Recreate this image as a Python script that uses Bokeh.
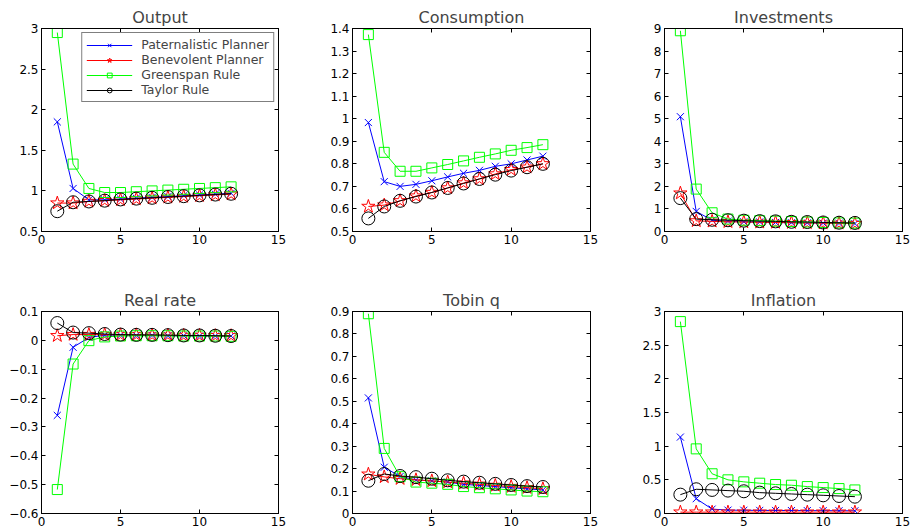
from bokeh.plotting import figure
from bokeh.layouts import row, column
from bokeh.models import FixedTicker, LinearAxis, Range1d, Legend, LegendItem
from bokeh.embed import file_html
from bokeh.resources import INLINE

periods = list(range(1, 13))
series_names = ["Paternalistic Planner", "Benevolent Planner", "Greenspan Rule", "Taylor Rule"]

# ---- data ----
output_pat = [1.85, 1.03, 0.89, 0.89, 0.90, 0.91, 0.92, 0.93, 0.94, 0.95, 0.96, 0.97]
output_ben = [0.85, 0.85, 0.87, 0.88, 0.89, 0.90, 0.91, 0.92, 0.93, 0.94, 0.95, 0.96]
output_gre = [2.95, 1.33, 1.03, 0.98, 0.98, 0.99, 1.00, 1.01, 1.02, 1.03, 1.04, 1.05]
output_tay = [0.75, 0.86, 0.87, 0.88, 0.895, 0.905, 0.915, 0.925, 0.935, 0.945, 0.955, 0.965]

cons_pat = [0.983, 0.721, 0.700, 0.709, 0.725, 0.742, 0.758, 0.771, 0.789, 0.800, 0.817, 0.834]
cons_ben = [0.611, 0.617, 0.636, 0.657, 0.673, 0.693, 0.715, 0.733, 0.755, 0.774, 0.785, 0.800]
cons_gre = [1.373, 0.851, 0.767, 0.767, 0.782, 0.797, 0.813, 0.829, 0.844, 0.860, 0.872, 0.885]
cons_tay = [0.558, 0.611, 0.636, 0.655, 0.673, 0.693, 0.713, 0.733, 0.752, 0.770, 0.785, 0.800]

inv_pat = [5.09, 0.89, 0.50, 0.45, 0.43, 0.42, 0.40, 0.39, 0.38, 0.37, 0.36, 0.35]
inv_ben = [1.70, 0.47, 0.45, 0.43, 0.42, 0.41, 0.40, 0.39, 0.38, 0.37, 0.36, 0.35]
inv_gre = [8.90, 1.88, 0.83, 0.55, 0.50, 0.48, 0.46, 0.44, 0.42, 0.40, 0.38, 0.37]
inv_tay = [1.48, 0.55, 0.52, 0.50, 0.48, 0.46, 0.45, 0.43, 0.42, 0.40, 0.39, 0.38]

rr_pat = [-0.26, -0.024, 0.010, 0.018, 0.018, 0.017, 0.017, 0.016, 0.016, 0.015, 0.015, 0.015]
rr_ben = [0.016, 0.020, 0.020, 0.020, 0.019, 0.019, 0.018, 0.018, 0.017, 0.017, 0.016, 0.016]
rr_gre = [-0.517, -0.082, -0.001, 0.012, 0.015, 0.016, 0.016, 0.016, 0.015, 0.015, 0.015, 0.014]
rr_tay = [0.060, 0.027, 0.025, 0.022, 0.020, 0.019, 0.019, 0.018, 0.017, 0.017, 0.016, 0.015]

tq_pat = [0.515, 0.206, 0.165, 0.150, 0.145, 0.140, 0.130, 0.125, 0.120, 0.115, 0.110, 0.105]
tq_ben = [0.175, 0.163, 0.155, 0.150, 0.145, 0.140, 0.135, 0.130, 0.125, 0.120, 0.115, 0.110]
tq_gre = [0.890, 0.290, 0.164, 0.140, 0.135, 0.130, 0.120, 0.115, 0.110, 0.105, 0.100, 0.097]
tq_tay = [0.146, 0.176, 0.167, 0.162, 0.155, 0.148, 0.142, 0.137, 0.132, 0.127, 0.122, 0.118]

inf_pat = [1.135, 0.22, 0.065, 0.050, 0.048, 0.046, 0.045, 0.044, 0.043, 0.042, 0.041, 0.040]
inf_ben = [0.020, 0.020, 0.020, 0.020, 0.020, 0.020, 0.020, 0.020, 0.020, 0.020, 0.020, 0.020]
inf_gre = [2.85, 0.96, 0.59, 0.50, 0.47, 0.45, 0.43, 0.42, 0.40, 0.385, 0.37, 0.35]
inf_tay = [0.28, 0.36, 0.35, 0.34, 0.33, 0.31, 0.30, 0.29, 0.28, 0.27, 0.26, 0.25]

x_ticks = [0, 5, 10, 15]
output_ticks = [0.5, 1, 1.5, 2, 2.5, 3]
cons_ticks = [0.5, 0.6, 0.7, 0.8, 0.9, 1.0, 1.1, 1.2, 1.3, 1.4]
inv_ticks = [0, 1, 2, 3, 4, 5, 6, 7, 8, 9]
rr_ticks = [-0.6, -0.5, -0.4, -0.3, -0.2, -0.1, 0, 0.1]
tq_ticks = [0, 0.1, 0.2, 0.3, 0.4, 0.5, 0.6, 0.7, 0.8, 0.9]
inf_ticks = [0, 0.5, 1, 1.5, 2, 2.5, 3]

# ---- styles ----
colors = ["#0000ff", "#ff0000", "#00ff00", "#000000"]
markers = ["x", "star", "square", "circle"]
msizes = [10, 14, 10, 13]
FONT = "DejaVu Sans"


def fmt(v):
    s = f"{v:g}"
    return s.replace("-", "\u2212")


def make_panel(title, series, yticks, width, height, left, right, top, bottom, legend=False):
    p = figure(width=width, height=height,
               x_range=Range1d(x_ticks[0], x_ticks[-1]),
               y_range=Range1d(yticks[0], yticks[-1]),
               output_backend="svg", toolbar_location=None,
               min_border_left=left, min_border_right=right,
               min_border_top=top, min_border_bottom=bottom,
               title=title)
    p.add_layout(LinearAxis(), "above")
    p.add_layout(LinearAxis(), "right")
    p.title.align = "center"
    p.title.text_font = FONT
    p.title.text_font_size = "16px"
    p.title.text_font_style = "normal"
    p.title.standoff = 4
    p.grid.visible = False
    p.outline_line_color = "black"
    p.outline_line_width = 1
    p.background_fill_color = "white"
    p.border_fill_color = "white"
    for ax in p.xaxis:
        ax.ticker = FixedTicker(ticks=x_ticks)
        ax.major_label_overrides = {t: fmt(t) for t in x_ticks}
    for ax in p.yaxis:
        ax.ticker = FixedTicker(ticks=yticks)
        ax.major_label_overrides = {t: fmt(t) for t in yticks}
    for ax in list(p.xaxis) + list(p.yaxis):
        ax.major_tick_in = 4
        ax.major_tick_out = 0
        ax.minor_tick_line_color = None
        ax.axis_line_color = "black"
        ax.major_tick_line_color = "black"
        ax.major_label_text_font = FONT
        ax.major_label_text_font_size = "12px"
        ax.major_label_text_color = "black"
        ax.major_label_standoff = 3
    for ax in p.above + p.right:
        if isinstance(ax, LinearAxis):
            ax.major_label_text_font_size = "1px"
            ax.major_label_text_color = None
            ax.major_label_standoff = 0
    items = []
    for name, ys, c, m, s in zip(series_names, series, colors, markers, msizes):
        lr = p.line(periods, ys, line_color=c, line_width=1)
        sr = p.scatter(periods, ys, marker=m, size=s, line_color=c, fill_color=None, line_width=1)
        items.append(LegendItem(label=name, renderers=[lr, sr]))
    if legend:
        lg = Legend(items=items, location="top_right")
        lg.border_line_color = "black"
        lg.border_line_width = 1
        lg.background_fill_color = "white"
        lg.background_fill_alpha = 1
        lg.label_text_font = FONT
        lg.label_text_font_size = "12.5px"
        lg.glyph_width = 46
        lg.glyph_height = 12
        lg.label_height = 12
        lg.spacing = 0
        lg.padding = 4
        lg.margin = 4
        lg.label_standoff = 9
        p.add_layout(lg, "center")
    return p


H1, H2 = 271, 258
T1, B1 = 28, 40
T2, B2 = 40, 16

p1 = make_panel("Output", [output_pat, output_ben, output_gre, output_tay], output_ticks, 315, H1, 41, 37, T1, B1, legend=True)
p2 = make_panel("Consumption", [cons_pat, cons_ben, cons_gre, cons_tay], cons_ticks, 312, H1, 37, 37, T1, B1)
p3 = make_panel("Investments", [inv_pat, inv_ben, inv_gre, inv_tay], inv_ticks, 284, H1, 37, 9, T1, B1)
p4 = make_panel("Real rate", [rr_pat, rr_ben, rr_gre, rr_tay], rr_ticks, 315, H2, 41, 37, T2, B2)
p5 = make_panel("Tobin q", [tq_pat, tq_ben, tq_gre, tq_tay], tq_ticks, 312, H2, 37, 37, T2, B2)
p6 = make_panel("Inflation", [inf_pat, inf_ben, inf_gre, inf_tay], inf_ticks, 284, H2, 37, 9, T2, B2)

layout = column(row(p1, p2, p3), row(p4, p5, p6))

open("out.html", "w").write(file_html(layout, INLINE))
